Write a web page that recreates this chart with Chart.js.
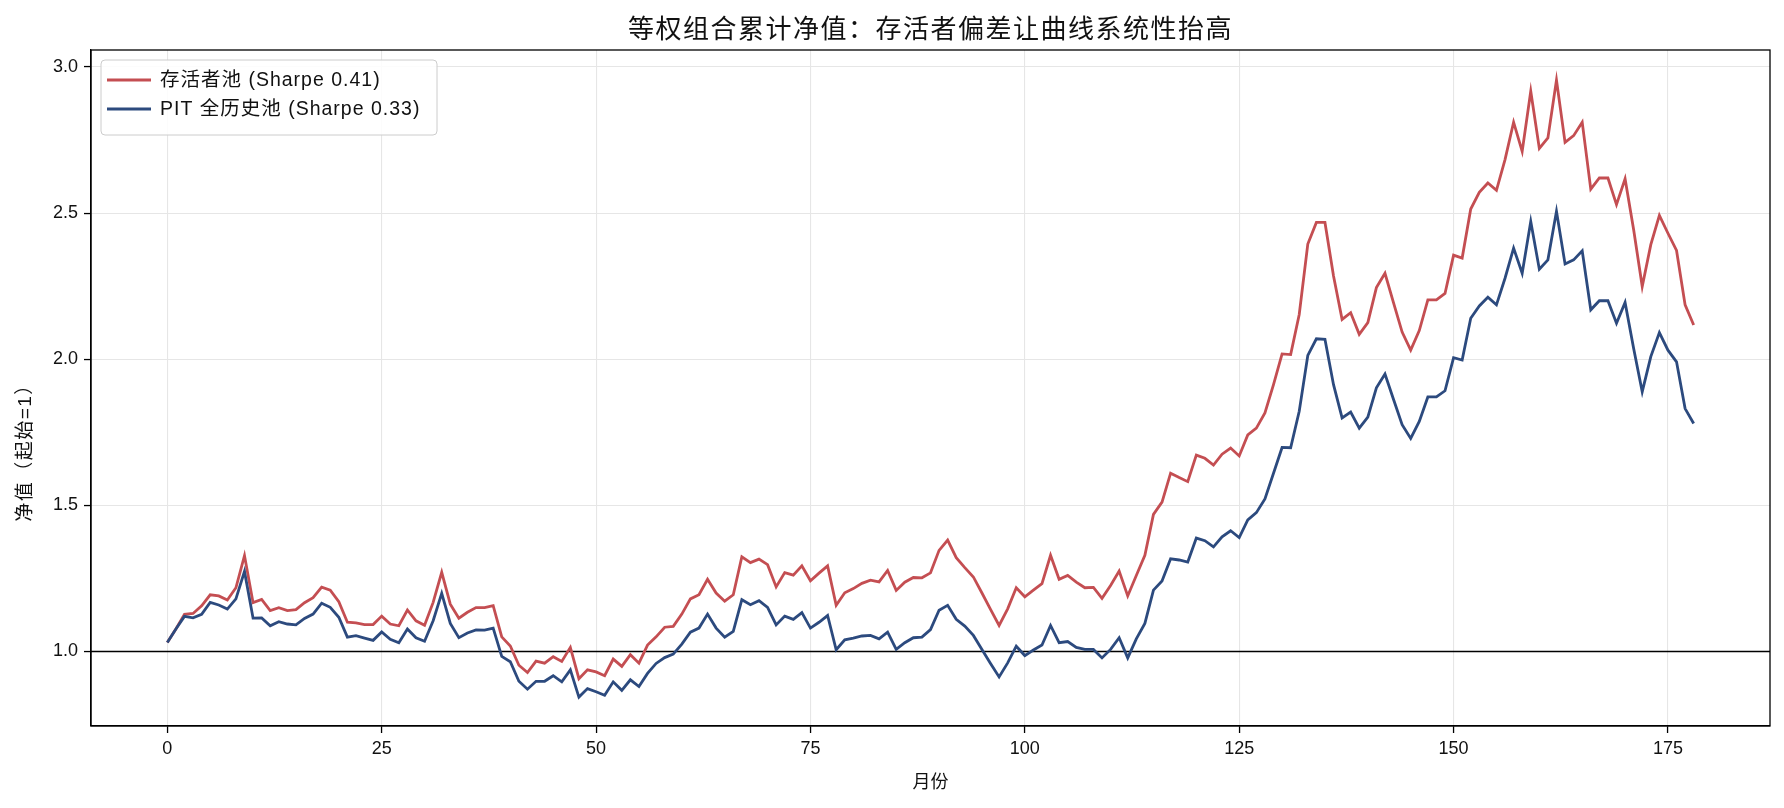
<!DOCTYPE html>
<html lang="zh">
<head>
<meta charset="utf-8">
<script src="https://cdn.jsdelivr.net/npm/chart.js@4.4.1/dist/chart.umd.min.js"></script>
<style>
  html, body { margin: 0; padding: 0; background: #fff; }
  #wrap { width: 1784px; height: 808px; }
</style>
</head>
<body>
<div id="wrap"><canvas id="navChart" width="1784" height="808"></canvas></div>
<script>
// 标题与图例文字
const chartTitle = '等权组合累计净值：存活者偏差让曲线系统性抬高';
const xTitle = '月份';
const yTitle = '净值（起始=1）';
const seriesNames = ['存活者池 (Sharpe 0.41)', 'PIT 全历史池 (Sharpe 0.33)'];

// 月份 0..178
const months = Array.from({ length: 179 }, (_, i) => i);

// 存活者池净值
const survivorNav = [
  1.031, 1.077, 1.127, 1.130, 1.156, 1.194, 1.190, 1.176, 1.218, 1.328,
  1.167, 1.178, 1.140, 1.150, 1.140, 1.143, 1.167, 1.184, 1.220, 1.210,
  1.170, 1.100, 1.098, 1.092, 1.092, 1.121, 1.094, 1.088, 1.142, 1.105,
  1.090, 1.168, 1.271, 1.162, 1.114, 1.134, 1.150, 1.150, 1.157, 1.050,
  1.019, 0.953, 0.928, 0.967, 0.960, 0.982, 0.966, 1.014, 0.907, 0.937,
  0.930, 0.917, 0.974, 0.949, 0.989, 0.960, 1.022, 1.050, 1.083, 1.086,
  1.128, 1.180, 1.194, 1.247, 1.200, 1.172, 1.194, 1.324, 1.304, 1.316,
  1.297, 1.221, 1.270, 1.261, 1.293, 1.242, 1.268, 1.293, 1.158, 1.201,
  1.215, 1.233, 1.244, 1.238, 1.277, 1.209, 1.237, 1.253, 1.252, 1.269,
  1.346, 1.381, 1.321, 1.287, 1.255, 1.200, 1.144, 1.089, 1.146, 1.218,
  1.187, 1.210, 1.232, 1.329, 1.247, 1.260, 1.237, 1.218, 1.219, 1.182,
  1.226, 1.275, 1.190, 1.260, 1.329, 1.469, 1.511, 1.610, 1.595, 1.581,
  1.672, 1.661, 1.638, 1.675, 1.696, 1.669, 1.741, 1.764, 1.816, 1.913,
  2.018, 2.016, 2.153, 2.394, 2.468, 2.468, 2.285, 2.136, 2.159, 2.085,
  2.125, 2.245, 2.294, 2.193, 2.093, 2.031, 2.098, 2.203, 2.203, 2.225,
  2.356, 2.346, 2.514, 2.571, 2.603, 2.578, 2.683, 2.811, 2.711, 2.917,
  2.721, 2.757, 2.955, 2.742, 2.765, 2.811, 2.582, 2.620, 2.620, 2.529,
  2.617, 2.443, 2.249, 2.392, 2.492, 2.431, 2.372, 2.186, 2.117
];

// PIT 全历史池净值
const pitNav = [
  1.031, 1.077, 1.120, 1.115, 1.127, 1.168, 1.159, 1.145, 1.180, 1.274,
  1.114, 1.115, 1.088, 1.102, 1.094, 1.091, 1.113, 1.128, 1.165, 1.151,
  1.117, 1.049, 1.054, 1.046, 1.038, 1.067, 1.042, 1.030, 1.077, 1.047,
  1.035, 1.105, 1.199, 1.096, 1.047, 1.063, 1.074, 1.073, 1.080, 0.983,
  0.965, 0.898, 0.871, 0.898, 0.898, 0.917, 0.896, 0.937, 0.844, 0.873,
  0.862, 0.850, 0.896, 0.867, 0.903, 0.880, 0.925, 0.959, 0.979, 0.991,
  1.025, 1.066, 1.080, 1.128, 1.080, 1.049, 1.069, 1.177, 1.160, 1.174,
  1.151, 1.091, 1.121, 1.110, 1.133, 1.080, 1.100, 1.123, 1.006, 1.040,
  1.046, 1.053, 1.055, 1.043, 1.066, 1.007, 1.030, 1.047, 1.049, 1.075,
  1.141, 1.158, 1.110, 1.087, 1.055, 1.007, 0.959, 0.913, 0.961, 1.018,
  0.986, 1.005, 1.022, 1.089, 1.030, 1.034, 1.014, 1.007, 1.007, 0.978,
  1.007, 1.047, 0.978, 1.043, 1.096, 1.210, 1.241, 1.317, 1.313, 1.306,
  1.388, 1.379, 1.358, 1.392, 1.413, 1.390, 1.450, 1.475, 1.522, 1.610,
  1.698, 1.697, 1.822, 2.013, 2.070, 2.068, 1.913, 1.799, 1.819, 1.764,
  1.802, 1.902, 1.949, 1.862, 1.776, 1.729, 1.787, 1.871, 1.871, 1.892,
  2.005, 1.997, 2.140, 2.182, 2.212, 2.186, 2.277, 2.380, 2.294, 2.471,
  2.308, 2.340, 2.506, 2.326, 2.340, 2.371, 2.169, 2.200, 2.200, 2.123,
  2.194, 2.037, 1.889, 2.009, 2.091, 2.031, 1.991, 1.831, 1.780
];

// 刻度
const xTicks = [0, 25, 50, 75, 100, 125, 150, 175];
const yTicks = [1.0, 1.5, 2.0, 2.5, 3.0];
const baseLine = 1.0;

const FONT = '"Liberation Sans", "Noto Sans CJK SC", sans-serif';
const RED = '#c44e52';
const BLUE = '#2c4a7e';

function toPoints(values) {
  return values.map((v, i) => ({ x: months[i], y: v }));
}

// 自定义绘制：标题、轴标题、外框、基准线、图例
const decorPlugin = {
  id: 'decor',
  beforeDatasetsDraw(chart) {
    const { ctx, chartArea, scales } = chart;
    const y1 = scales.y.getPixelForValue(baseLine);
    ctx.save();
    ctx.strokeStyle = '#000';
    ctx.lineWidth = 1.4;
    ctx.beginPath();
    ctx.moveTo(chartArea.left, y1);
    ctx.lineTo(chartArea.right, y1);
    ctx.stroke();
    ctx.restore();
  },
  afterDraw(chart) {
    const { ctx, chartArea } = chart;
    const { left, right, top, bottom } = chartArea;
    ctx.save();

    // 外框
    ctx.strokeStyle = '#000';
    ctx.lineWidth = 1.3;
    ctx.strokeRect(left, top, right - left, bottom - top);

    // 标题
    ctx.fillStyle = '#111';
    ctx.textAlign = 'center';
    ctx.textBaseline = 'middle';
    ctx.font = '26px ' + FONT;
    ctx.letterSpacing = '1.5px';
    ctx.fillText(chartTitle, (left + right) / 2, 31);
    ctx.letterSpacing = '0px';

    // 轴标题
    ctx.font = '18px ' + FONT;
    ctx.fillText(xTitle, (left + right) / 2, 783);
    ctx.save();
    ctx.translate(26, 448);
    ctx.rotate(-Math.PI / 2);
    ctx.font = '19px ' + FONT;
    ctx.letterSpacing = '1.5px';
    ctx.fillText(yTitle, 0, 0);
    ctx.restore();

    // 图例
    const bx = left + 10, by = top + 10, bw = 336, bh = 75;
    ctx.fillStyle = 'rgba(255,255,255,0.85)';
    ctx.strokeStyle = '#cccccc';
    ctx.lineWidth = 1;
    ctx.beginPath();
    ctx.roundRect(bx, by, bw, bh, 4);
    ctx.fill();
    ctx.stroke();

    const colors = [RED, BLUE];
    ctx.font = '19.5px ' + FONT;
    ctx.letterSpacing = '1px';
    ctx.textAlign = 'left';
    seriesNames.forEach((name, i) => {
      const ry = by + 20 + i * 29;
      ctx.strokeStyle = colors[i];
      ctx.lineWidth = 2.8;
      ctx.beginPath();
      ctx.moveTo(bx + 6, ry);
      ctx.lineTo(bx + 50, ry);
      ctx.stroke();
      ctx.fillStyle = '#111';
      ctx.fillText(name, bx + 59, ry + 1);
    });

    ctx.restore();
  }
};

const ctx = document.getElementById('navChart').getContext('2d');
const navChart = new Chart(ctx, {
  type: 'line',
  data: {
    datasets: [
      {
        label: seriesNames[0],
        data: toPoints(survivorNav),
        borderColor: RED,
        borderWidth: 2.8,
        pointRadius: 0,
        tension: 0,
        fill: false,
        order: 1
      },
      {
        label: seriesNames[1],
        data: toPoints(pitNav),
        borderColor: BLUE,
        borderWidth: 2.8,
        pointRadius: 0,
        tension: 0,
        fill: false,
        order: 0
      }
    ]
  },
  options: {
    responsive: false,
    devicePixelRatio: 1,
    animation: false,
    layout: { padding: { top: 50, right: 14, left: 0, bottom: 0 } },
    plugins: {
      legend: { display: false },
      title: { display: false },
      tooltip: { enabled: false }
    },
    scales: {
      x: {
        type: 'linear',
        min: -8.9,
        max: 186.9,
        afterBuildTicks: (scale) => { scale.ticks = xTicks.map(v => ({ value: v })); },
        afterFit: (scale) => { scale.height = 82; },
        grid: {
          color: '#e6e6e6',
          lineWidth: 1.1,
          tickColor: '#000',
          tickLength: 7,
          tickWidth: 1.3
        },
        border: { display: true, color: '#000', width: 1.3 },
        ticks: {
          padding: 5,
          color: '#111',
          font: { family: FONT, size: 18 },
          maxRotation: 0,
          callback: (v) => String(v)
        }
      },
      y: {
        type: 'linear',
        min: 0.745,
        max: 3.058,
        afterBuildTicks: (scale) => { scale.ticks = yTicks.map(v => ({ value: v })); },
        afterFit: (scale) => { scale.width = 91; },
        grid: {
          color: '#e6e6e6',
          lineWidth: 1.1,
          tickColor: '#000',
          tickLength: 7,
          tickWidth: 1.3
        },
        border: { display: true, color: '#000', width: 1.3 },
        ticks: {
          padding: 6,
          color: '#111',
          font: { family: FONT, size: 18 },
          callback: (v) => v.toFixed(1)
        }
      }
    }
  },
  plugins: [decorPlugin]
});
</script>
</body>
</html>
